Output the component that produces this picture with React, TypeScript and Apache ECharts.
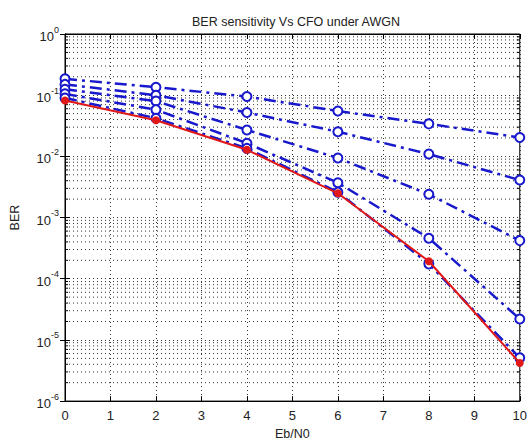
import React, { useEffect, useRef } from "react";
import * as echarts from "echarts";

const ebn0 = [0, 2, 4, 6, 8, 10];
const cfoA = [0.185, 0.135, 0.095, 0.055, 0.034, 0.0203];
const cfoB = [0.15, 0.1, 0.052, 0.0253, 0.0109, 0.0041];
const cfoC = [0.125, 0.08, 0.027, 0.0094, 0.0024, 4.2e-4];
const cfoD = [0.105, 0.058, 0.0164, 0.0037, 4.6e-4, 2.2e-5];
const cfoE = [0.09, 0.042, 0.0135, 0.0026, 1.75e-4, 5.1e-6];
const noCfo = [0.082, 0.039, 0.0128, 0.00249, 1.93e-4, 4.2e-6];
const xTicks = [0, 1, 2, 3, 4, 5, 6, 7, 8, 9, 10];
const decadeExps = [-6, -5, -4, -3, -2, -1, 0];

export default function App() {
  const ref = useRef<HTMLDivElement>(null);
  useEffect(() => {
    if (!ref.current) return;
    const chart = echarts.init(ref.current, null, { renderer: "svg" });
    const font = "'Liberation Sans', Arial, sans-serif";
    const textColor = "#222";
    const minorVals: number[][] = [];
    for (const e of decadeExps.slice(0, -1)) {
      for (let m = 2; m <= 9; m++) minorVals.push([0, m * Math.pow(10, e)]);
    }
    const toPairs = (arr: number[]) => arr.map((v, i) => [ebn0[i], v]);
    const blue = "#1818cc";
    const blueSeries = [cfoA, cfoB, cfoC, cfoD, cfoE].map((arr, i) => ({
      type: "line",
      name: "cfo" + i,
      data: toPairs(arr),
      symbol: "emptyCircle",
      symbolSize: 9,
      lineStyle: { color: blue, width: 2.5, type: [12, 5, 3, 5] },
      itemStyle: { color: blue, borderColor: blue, borderWidth: 1.8 },
      z: 3,
    }));
    const dotted = { color: "#333", width: 1, type: [1, 3] };
    chart.setOption({
      animation: false,
      backgroundColor: "#fff",
      title: {
        text: "BER sensitivity Vs CFO under AWGN",
        left: 291,
        top: 10,
        textAlign: "center",
        textStyle: { fontFamily: font, fontSize: 12.5, fontWeight: "normal", color: textColor },
      },
      grid: {
        left: 60,
        right: 9,
        top: 34,
        bottom: 39,
        show: true,
        borderColor: "#000",
        borderWidth: 1,
        backgroundColor: "#fff",
      },
      xAxis: [
        {
          type: "value",
          min: 0,
          max: 10,
          interval: 1,
          name: "Eb/N0",
          nameLocation: "middle",
          nameGap: 24,
          nameTextStyle: { fontFamily: font, fontSize: 12.5, color: textColor },
          axisLine: { show: true, lineStyle: { color: "#000" } },
          axisTick: { show: true, inside: true, length: 5, lineStyle: { color: "#000" } },
          axisLabel: {
            fontFamily: font,
            fontSize: 13,
            color: textColor,
            margin: 8,
            formatter: (v: number) => (xTicks.includes(v) ? String(v) : ""),
          },
          splitLine: { show: true, lineStyle: dotted },
        },
        {
          type: "value",
          min: 0,
          max: 10,
          interval: 1,
          position: "top",
          axisLine: { show: true, lineStyle: { color: "#000" } },
          axisTick: { show: true, inside: true, length: 5, lineStyle: { color: "#000" } },
          axisLabel: { show: false },
          splitLine: { show: false },
        },
      ],
      yAxis: [
        {
          type: "log",
          logBase: 10,
          min: 1e-6,
          max: 1,
          splitNumber: 6,
          name: "BER",
          nameLocation: "middle",
          nameGap: 44,
          nameRotate: 90,
          nameTextStyle: { fontFamily: font, fontSize: 12.5, color: textColor },
          axisLine: { show: true, lineStyle: { color: "#000" } },
          axisTick: { show: true, inside: true, length: 5, lineStyle: { color: "#000" } },
          axisLabel: {
            fontFamily: font,
            color: textColor,
            margin: 6,
            formatter: (v: number) => "{b|10}{s|" + Math.round(Math.log10(v)) + "}",
            rich: {
              b: { fontFamily: font, fontSize: 13, color: textColor, verticalAlign: "bottom", lineHeight: 18 },
              s: { fontFamily: font, fontSize: 9, color: textColor, verticalAlign: "top", lineHeight: 18 },
            },
          },
          splitLine: { show: true, lineStyle: dotted },
        },
        {
          type: "log",
          logBase: 10,
          min: 1e-6,
          max: 1,
          splitNumber: 6,
          position: "right",
          axisLine: { show: true, lineStyle: { color: "#000" } },
          axisTick: { show: true, inside: true, length: 5, lineStyle: { color: "#000" } },
          axisLabel: { show: false },
          splitLine: { show: false },
        },
      ],
      series: [
        {
          type: "custom",
          name: "minorGrid",
          silent: true,
          data: minorVals,
          clip: false,
          z: 1,
          renderItem: (params: any, api: any) => {
            const cs = params.coordSys;
            const y = api.coord([api.value(0), api.value(1)])[1];
            const x0 = cs.x;
            const x1 = cs.x + cs.width;
            return {
              type: "group",
              children: [
                {
                  type: "line",
                  shape: { x1: x0, y1: y, x2: x1, y2: y },
                  style: { stroke: "#333", lineWidth: 1, lineDash: [1, 3] },
                },
                {
                  type: "line",
                  shape: { x1: x0, y1: y, x2: x0 + 3, y2: y },
                  style: { stroke: "#000", lineWidth: 1 },
                },
                {
                  type: "line",
                  shape: { x1: x1 - 3, y1: y, x2: x1, y2: y },
                  style: { stroke: "#000", lineWidth: 1 },
                },
              ],
            };
          },
        },
        ...blueSeries,
        {
          type: "line",
          name: "noCfo",
          data: toPairs(noCfo),
          symbol: "circle",
          symbolSize: 8,
          lineStyle: { color: "#e01818", width: 2, type: "solid" },
          itemStyle: { color: "#e01818" },
          z: 4,
        },
      ],
    });
    return () => chart.dispose();
  }, []);
  return (
    <div
      ref={ref}
      style={{ position: "fixed", left: 0, top: 0, width: 530, height: 445, background: "#fff" }}
    />
  );
}
